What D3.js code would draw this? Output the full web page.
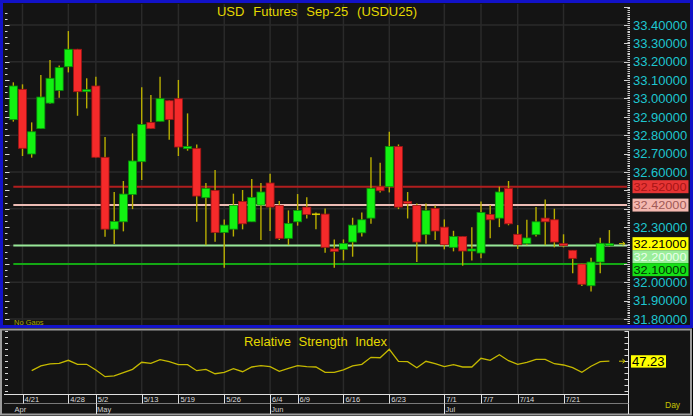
<!DOCTYPE html>
<html><head><meta charset="utf-8">
<script src="https://cdn.jsdelivr.net/npm/d3@7/dist/d3.min.js"></script>
<style>html,body{margin:0;padding:0;background:#000;overflow:hidden}svg{display:block}</style>
</head><body><svg id="c" width="693" height="416"></svg>
<script>
// ---------------- data ----------------
const dates = ["4/18","4/21","4/22","4/23","4/24","4/25","4/28","4/29","4/30","5/2","5/6","5/7","5/8","5/9",
  "5/13","5/14","5/15","5/16","5/19","5/20","5/21","5/22","5/23","5/26","5/27","5/28","5/29","5/30",
  "6/4","6/5","6/6","6/9","6/10","6/11","6/12","6/13","6/16","6/17","6/18","6/19","6/20",
  "6/23","6/24","6/25","6/26","6/27","6/30","7/1","7/2","7/3","7/4","7/7","7/8","7/9","7/10",
  "7/14","7/15","7/16","7/17","7/18","7/21","7/22","7/23","7/24","7/25","7/28"];
const openV = [32.885,33.050,32.698,32.836,32.975,33.044,33.173,33.268,33.037,33.068,32.680,32.289,32.329,32.478,
  32.656,32.870,32.876,32.988,32.999,32.727,32.729,32.460,32.500,32.271,32.289,32.440,32.329,32.420,
  32.540,32.418,32.239,32.329,32.409,32.370,32.371,32.182,32.179,32.219,32.269,32.349,32.520,
  32.520,32.739,32.440,32.418,32.259,32.402,32.300,32.190,32.249,32.170,32.159,32.369,32.349,32.511,
  32.261,32.210,32.259,32.349,32.340,32.210,32.174,32.099,31.981,32.110,32.200];
const highV = [33.088,33.077,32.870,33.128,33.209,33.179,33.367,33.270,33.110,33.119,32.790,32.491,32.551,32.810,
  33.061,33.019,33.119,32.990,33.101,32.919,32.750,32.540,32.611,32.342,32.482,32.502,32.562,32.540,
  32.591,32.442,32.391,32.480,32.462,32.380,32.402,32.233,32.233,32.351,32.380,32.680,32.650,
  32.819,32.750,32.491,32.429,32.429,32.418,32.342,32.280,32.250,32.300,32.440,32.420,32.520,32.551,
  32.311,32.340,32.409,32.451,32.400,32.261,32.174,32.101,32.134,32.242,32.284];
const lowV = [32.874,32.687,32.678,32.834,32.972,33.004,33.142,32.906,32.946,32.678,32.248,32.208,32.277,32.398,
  32.556,32.834,32.876,32.776,32.687,32.716,32.329,32.202,32.220,32.079,32.249,32.288,32.329,32.230,
  32.279,32.230,32.202,32.308,32.347,32.289,32.161,32.079,32.119,32.139,32.249,32.318,32.489,
  32.489,32.398,32.347,32.110,32.210,32.230,32.179,32.168,32.090,32.119,32.130,32.239,32.300,32.310,
  32.181,32.202,32.249,32.202,32.190,32.190,32.049,31.980,31.949,32.049,32.194];
const closeV = [33.068,32.729,32.819,33.008,33.110,33.168,33.268,33.037,33.048,32.680,32.289,32.331,32.480,32.660,
  32.859,32.836,32.999,32.885,32.736,32.739,32.469,32.511,32.271,32.311,32.418,32.318,32.462,32.491,
  32.409,32.239,32.320,32.391,32.369,32.370,32.190,32.168,32.211,32.311,32.340,32.511,32.498,
  32.739,32.409,32.429,32.219,32.391,32.279,32.204,32.249,32.170,32.181,32.380,32.340,32.491,32.318,
  32.204,32.241,32.329,32.329,32.219,32.199,32.130,31.989,32.110,32.212,32.210];
const rsiV = [null,null,35.4,41.3,43.8,44.6,48.4,43.4,43.4,36.3,27.9,28.8,32.9,37.1,
  45.9,44.6,49.1,46.6,42.9,42.9,35.4,37.1,31.6,33.4,37.9,34.1,40.0,41.6,
  40.4,34.6,38.4,41.6,40.4,40.0,33.4,33.4,36.3,41.3,43.4,52.1,51.6,
  62.1,47.1,46.6,39.1,47.1,44.1,40.4,42.9,40.0,40.0,50.9,48.4,55.4,47.9,
  43.4,45.9,49.6,49.6,44.1,42.5,39.1,33.4,40.9,46.6,47.23];
const dateTicks = ["4/21","4/28","5/2","5/13","5/19","5/26","6/4","6/9","6/16","6/23","7/1","7/7","7/14","7/21"];
const monthNames = ["Apr","May","Jun","Jul"];
const monthStarts = ["4/18","5/2","6/4","7/1"];
const refLevels = [32.52, 32.42, 32.20, 32.10];
const lastPrice = 32.21;
const lastRsi = 47.23;
const titleText = "USD Futures Sep-25 (USDU25)";
const rsiTitle = "Relative Strength Index";

// ---------------- styles ----------------
const refLineColors = ["#b01e1e", "#ecbcb4", "#98e898", "#14a814"];
const refBoxFill = ["#e63434", "#f4b8b0", "#9aee9a", "#16e016"];
const refBoxText = ["#a81414", "#a05a56", "#eaffea", "#003000"];
const FONT = "'Liberation Sans', Arial, sans-serif";
const PANEL = "#141414", GRID = "#2a2a2a";

const svg = d3.select("#c");
svg.append("rect").attr("width", 693).attr("height", 416).attr("fill", "#000");

// ---------------- scales ----------------
const yP = d3.scaleLinear().domain([31.8, 33.4]).range([319, 25]);
const xB = d3.scaleBand().domain(dates).range([8.75, 613.97]).paddingInner(0.1).paddingOuter(0.05);
const cx = d => xB(d) + xB.bandwidth() / 2;
const yR = d3.scaleLinear().domain([10, 85]).range([391, 331]);

// ---------------- main panel ----------------
svg.append("rect").attr("x", 3).attr("y", 3).attr("width", 687).attr("height", 323).attr("fill", PANEL);

const main = svg.append("g");
main.selectAll(".hg").data(d3.range(31.8, 33.41, 0.2)).join("line")
  .attr("x1", 9).attr("x2", 627).attr("y1", d => yP(d)).attr("y2", d => yP(d))
  .attr("stroke", GRID).attr("stroke-width", 1.5);
main.selectAll(".vg").data(dateTicks).join("line")
  .attr("x1", d => cx(d)).attr("x2", d => cx(d)).attr("y1", 4).attr("y2", 325)
  .attr("stroke", GRID).attr("stroke-width", 1.5);

main.selectAll(".ref").data(refLevels).join("line")
  .attr("x1", cx(dates[0])).attr("x2", 627).attr("y1", d => yP(d)).attr("y2", d => yP(d))
  .attr("stroke", (d, i) => refLineColors[i]).attr("stroke-width", 2);

// candles
const idx = d3.range(dates.length);
const bw = xB.bandwidth() - 0.2;
main.selectAll(".wick").data(idx).join("line")
  .attr("x1", i => cx(dates[i])).attr("x2", i => cx(dates[i]))
  .attr("y1", i => yP(highV[i])).attr("y2", i => yP(lowV[i]))
  .attr("stroke", "#b8ae00").attr("stroke-width", 1.4);
idx.forEach(i => {
  const o = openV[i], c = closeV[i], x0 = cx(dates[i]) - bw / 2;
  if (Math.abs(o - c) < 0.0005) {
    main.append("line").attr("x1", x0).attr("x2", x0 + bw).attr("y1", yP(c)).attr("y2", yP(c))
      .attr("stroke", "#d8cc00").attr("stroke-width", 1.6);
    return;
  }
  const up = c > o;
  const y1 = yP(Math.max(o, c)), y2 = yP(Math.min(o, c));
  main.append("rect").attr("x", x0).attr("y", y1).attr("width", bw).attr("height", Math.max(2, y2 - y1))
    .attr("fill", up ? "#12f212" : "#f52a2a")
    .attr("stroke", up ? "#0a8c0a" : "#9c1414").attr("stroke-width", 0.8);
});

const lpY = yP(lastPrice);
main.append("path").attr("d", `M${619},${lpY}H${625}M${622.5},${lpY - 2}L${625},${lpY}L${622.5},${lpY + 2}`)
  .attr("stroke", "#d0c800").attr("stroke-width", 1).attr("fill", "none");

// left axis ticks
const ltk = d3.range(0, 54).map(k => ({ v: 31.7 + k * 0.1 / 3, major: k % 3 === 0 }))
  .filter(d => yP(d.v) > 5 && yP(d.v) < 325);
main.selectAll(".lt").data(ltk).join("line")
  .attr("x1", 5).attr("x2", d => d.major ? 9.5 : 7.5)
  .attr("y1", d => Math.round(yP(d.v)) + 0.5).attr("y2", d => Math.round(yP(d.v)) + 0.5)
  .attr("stroke", "#d8d8d8").attr("stroke-width", 1);
// right axis ticks
const rtk = d3.range(0, 176).map(k => Math.round((31.76 + k * 0.01) * 100) / 100)
  .filter(v => yP(v) > 5 && yP(v) < 325);
main.selectAll(".rt").data(rtk).join("line")
  .attr("x1", v => Math.round(v * 100) % 10 === 0 ? 624 : 627.5).attr("x2", 630)
  .attr("y1", v => Math.round(yP(v)) + 0.5).attr("y2", v => Math.round(yP(v)) + 0.5)
  .attr("stroke", "#d0d0d0").attr("stroke-width", 1);

// label boxes (stacked)
const boxes = refLevels.map((v, i) => ({ v, fill: refBoxFill[i], tc: refBoxText[i] }))
  .concat([{ v: lastPrice, fill: "#ffff00", tc: "#000" }])
  .sort((a, b) => b.v - a.v);
const BH = 13;
let prevBottom = -Infinity;
boxes.forEach(b => {
  let top = yP(b.v) - BH / 2;
  if (top < prevBottom) top = prevBottom;
  prevBottom = top + BH;
  b.top = top;
});

const covered = v => boxes.some(b => yP(v) + 5 > b.top && yP(v) - 5 < b.top + BH);
main.selectAll(".pl").data(d3.range(31.8, 33.41, 0.1).filter(v => !covered(v))).join("text")
  .attr("x", 633).attr("y", d => yP(d) + 4.7)
  .attr("font-family", FONT).attr("font-size", 13).attr("fill", "#1ec6d0")
  .text(d => d.toFixed(5));

const bg = main.append("g");
boxes.forEach(b => {
  bg.append("rect").attr("x", 632.5).attr("y", b.top).attr("width", 56).attr("height", BH).attr("fill", b.fill);
  bg.append("text").attr("x", 633.5).attr("y", b.top + BH / 2 + 4.2)
    .attr("font-family", FONT).attr("font-size", 11.5).attr("textLength", 53).attr("lengthAdjust", "spacingAndGlyphs")
    .attr("fill", b.tc).text(b.v.toFixed(5));
});

main.append("text").attr("x", 317).attr("y", 16).attr("text-anchor", "middle")
  .attr("font-family", FONT).attr("font-size", 13).attr("word-spacing", 5.3).attr("fill", "#e4d800")
  .text(titleText);
main.append("text").attr("x", 14).attr("y", 324.5).attr("font-family", FONT).attr("font-size", 7.5)
  .attr("fill", "#a8a400").text("No Gaps");

svg.append("rect").attr("x", 1.5).attr("y", 1.5).attr("width", 690).attr("height", 325)
  .attr("fill", "none").attr("stroke", "#1212c8").attr("stroke-width", 3);

// ---------------- RSI panel ----------------
svg.append("rect").attr("x", 1).attr("y", 329.5).attr("width", 690).attr("height", 85)
  .attr("fill", PANEL).attr("stroke", "#9c9c9c").attr("stroke-width", 2);
const rp = svg.append("g");
rp.selectAll(".vg").data(dateTicks).join("line")
  .attr("x1", d => cx(d)).attr("x2", d => cx(d)).attr("y1", 331).attr("y2", 394)
  .attr("stroke", GRID).attr("stroke-width", 1.5);
const rsiTicks = d3.range(10, 86, 7.5);
rp.selectAll(".rl").data(rsiTicks).join("line")
  .attr("x1", 5).attr("x2", 8).attr("y1", d => Math.round(yR(d)) + 0.5).attr("y2", d => Math.round(yR(d)) + 0.5)
  .attr("stroke", "#d8d8d8");
rp.selectAll(".rr").data(rsiTicks).join("line")
  .attr("x1", 624.5).attr("x2", 628).attr("y1", d => Math.round(yR(d)) + 0.5).attr("y2", d => Math.round(yR(d)) + 0.5)
  .attr("stroke", "#d8d8d8");
rp.append("line").attr("x1", 628.5).attr("x2", 628.5).attr("y1", 331).attr("y2", 414).attr("stroke", "#e0e0e0");
const rline = d3.line().defined(d => d != null).x((d, i) => cx(dates[i])).y(d => yR(d));
rp.append("path").datum(rsiV).attr("d", rline).attr("fill", "none")
  .attr("stroke", "#c4b800").attr("stroke-width", 1.3);
rp.append("text").attr("x", 315.5).attr("y", 346).attr("text-anchor", "middle")
  .attr("font-family", FONT).attr("font-size", 13).attr("word-spacing", 4).attr("fill", "#e4d800").text(rsiTitle);
const lrY = yR(lastRsi);
rp.append("path").attr("d", `M${619},${lrY}H${625}M${622.5},${lrY - 2}L${625},${lrY}L${622.5},${lrY + 2}`)
  .attr("stroke", "#d0c800").attr("stroke-width", 1).attr("fill", "none");
rp.append("rect").attr("x", 631).attr("y", lrY - 6).attr("width", 35).attr("height", 12.4).attr("fill", "#ffff00");
rp.append("text").attr("x", 632).attr("y", lrY + 4.8).attr("font-family", FONT).attr("font-size", 13)
  .attr("fill", "#000").text(lastRsi.toFixed(2));

rp.append("line").attr("x1", 4).attr("x2", 628.5).attr("y1", 394.5).attr("y2", 394.5).attr("stroke", "#e0e0e0");
rp.append("line").attr("x1", 4).attr("x2", 628.5).attr("y1", 403.5).attr("y2", 403.5).attr("stroke", "#7a7a7a");
rp.selectAll(".ds").data(dateTicks).join("line")
  .attr("x1", d => Math.round(cx(d)) + 0.5).attr("x2", d => Math.round(cx(d)) + 0.5)
  .attr("y1", 394.5).attr("y2", 403.5).attr("stroke", "#e0e0e0");
rp.selectAll(".dl").data(dateTicks).join("text")
  .attr("x", d => cx(d) + 2).attr("y", 401.8)
  .attr("font-family", FONT).attr("font-size", 7.5).attr("fill", "#dcdcdc").text(d => d);
rp.selectAll(".ms").data(monthStarts.slice(1)).join("line")
  .attr("x1", d => Math.round(cx(d)) + 0.5).attr("x2", d => Math.round(cx(d)) + 0.5)
  .attr("y1", 403.5).attr("y2", 414).attr("stroke", "#e0e0e0");
rp.selectAll(".ml").data(monthStarts).join("text")
  .attr("x", d => cx(d) + 1.2).attr("y", 411.8)
  .attr("font-family", FONT).attr("font-size", 7.5).attr("fill", "#d0d0d0").text((d, i) => monthNames[i]);
rp.append("text").attr("x", 665).attr("y", 408).attr("font-family", FONT).attr("font-size", 8.5)
  .attr("fill", "#c8c400").text("Day");
</script></body></html>
